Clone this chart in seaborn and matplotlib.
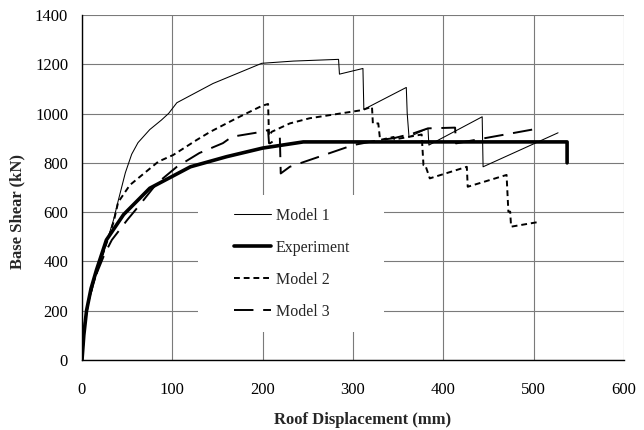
import matplotlib
matplotlib.use("Agg")
import matplotlib.pyplot as plt
from matplotlib.patches import Rectangle
import numpy as np
import pandas as pd
import seaborn as sns

# ---- data ----
model1_x = [0, 3, 8, 15, 25, 35, 40, 48, 55, 62, 75, 88, 96, 105, 145, 199, 234, 284, 285, 311, 312, 359, 360, 362, 383, 384, 443, 444, 527]
model1_y = [0, 150, 250, 340, 450, 570, 645, 760, 835, 882, 935, 974, 1001, 1044, 1122, 1204, 1213, 1220, 1160, 1183, 1017, 1106, 1001, 905, 940, 872, 987, 784, 922]

exp_x = [0, 2, 5, 10, 16, 27, 46, 75, 120, 160, 200, 245, 300, 400, 500, 537, 537]
exp_y = [0, 100, 200, 290, 365, 487, 590, 697, 784, 825, 860, 885, 885, 885, 885, 885, 800]

model2_x = [0, 3, 8, 15, 25, 35, 40, 53, 84.5, 101, 127, 142, 171, 199, 206, 207, 210, 230, 252, 310, 321, 322, 328, 330, 345, 346, 376, 378, 380, 385, 426, 427, 470, 472, 474, 475, 507]
model2_y = [0, 150, 250, 340, 450, 560, 640, 710, 805, 832, 893, 926, 981, 1031, 1039, 910, 926, 960, 981, 1014, 1028, 960, 960, 893, 905, 895, 915, 791, 791, 737, 784, 703, 751, 602, 602, 541, 561]

model3_x = [0, 3, 8, 15, 25, 33, 50, 64, 77, 83, 105, 130, 156, 166, 199, 206, 207, 208, 219, 220, 230, 300, 330, 345, 367, 383, 413, 414, 500]
model3_y = [0, 150, 250, 340, 430, 487, 568, 630, 690, 717, 784, 840, 880, 906, 926, 933, 880, 879, 906, 757, 784, 872, 893, 900, 920, 940, 943, 879, 936]

x_ticks = [0, 100, 200, 300, 400, 500, 600]
y_ticks = [0, 200, 400, 600, 800, 1000, 1200, 1400]

sns.set_theme(style="white")
plt.rcParams["font.family"] = ["Liberation Serif", "DejaVu Serif"]

fig = plt.figure(figsize=(6.44, 4.30), dpi=100)
ax = fig.add_axes([82 / 644, 1 - 360 / 430, 542 / 644, 345 / 430])

series = [
    ("Model 1", model1_x, model1_y, 0.75, None),
    ("Experiment", exp_x, exp_y, 2.6, None),
    ("Model 2", model2_x, model2_y, 1.4, (3.0, 2.0)),
    ("Model 3", model3_x, model3_y, 1.4, (10.0, 5.0)),
]

for name, xs, ys, lw, dash in series:
    df = pd.DataFrame({"x": xs, "y": ys})
    sns.lineplot(data=df, x="x", y="y", sort=False, estimator=None, ax=ax,
                 color="black", linewidth=lw, label=name, zorder=3)
    if dash is not None:
        ax.lines[-1].set_dashes(dash)

ax.set_xlim(0, 600)
ax.set_ylim(0, 1400)
ax.set_xticks(x_ticks)
ax.set_yticks(y_ticks)
ax.grid(True, color="#7a7a7a", linewidth=0.8)
ax.set_axisbelow(True)
for s in ["top", "right"]:
    ax.spines[s].set_visible(False)
for s in ["left", "bottom"]:
    ax.spines[s].set_color("black")
    ax.spines[s].set_linewidth(1.0)
ax.tick_params(axis="both", direction="out", length=4, width=0.8, color="black",
               labelsize=12, labelcolor="black")
ax.tick_params(axis="x", pad=12)
ax.tick_params(axis="y", pad=6)
ax.set_xlabel("Roof Displacement (mm)", fontsize=12, fontweight="bold", labelpad=10)
ax.set_ylabel("Base Shear (kN)", fontsize=12, fontweight="bold", labelpad=6.5)
ax.xaxis.label.set_x(0.517)
ax.yaxis.label.set_y(0.43)

# white box behind legend hiding the grid
ax.add_patch(Rectangle(((198 - 82) / 542, (360 - 332) / 345), 186 / 542, 137 / 345,
                       transform=ax.transAxes, facecolor="white", edgecolor="none", zorder=1.5))

leg = ax.legend(loc="center", bbox_to_anchor=((292 - 82) / 542, (360 - 264) / 345),
                frameon=False, fontsize=11.5, handlelength=2.3, handletextpad=0.3,
                labelspacing=1.0)

fig.savefig("out.png", dpi=100)
